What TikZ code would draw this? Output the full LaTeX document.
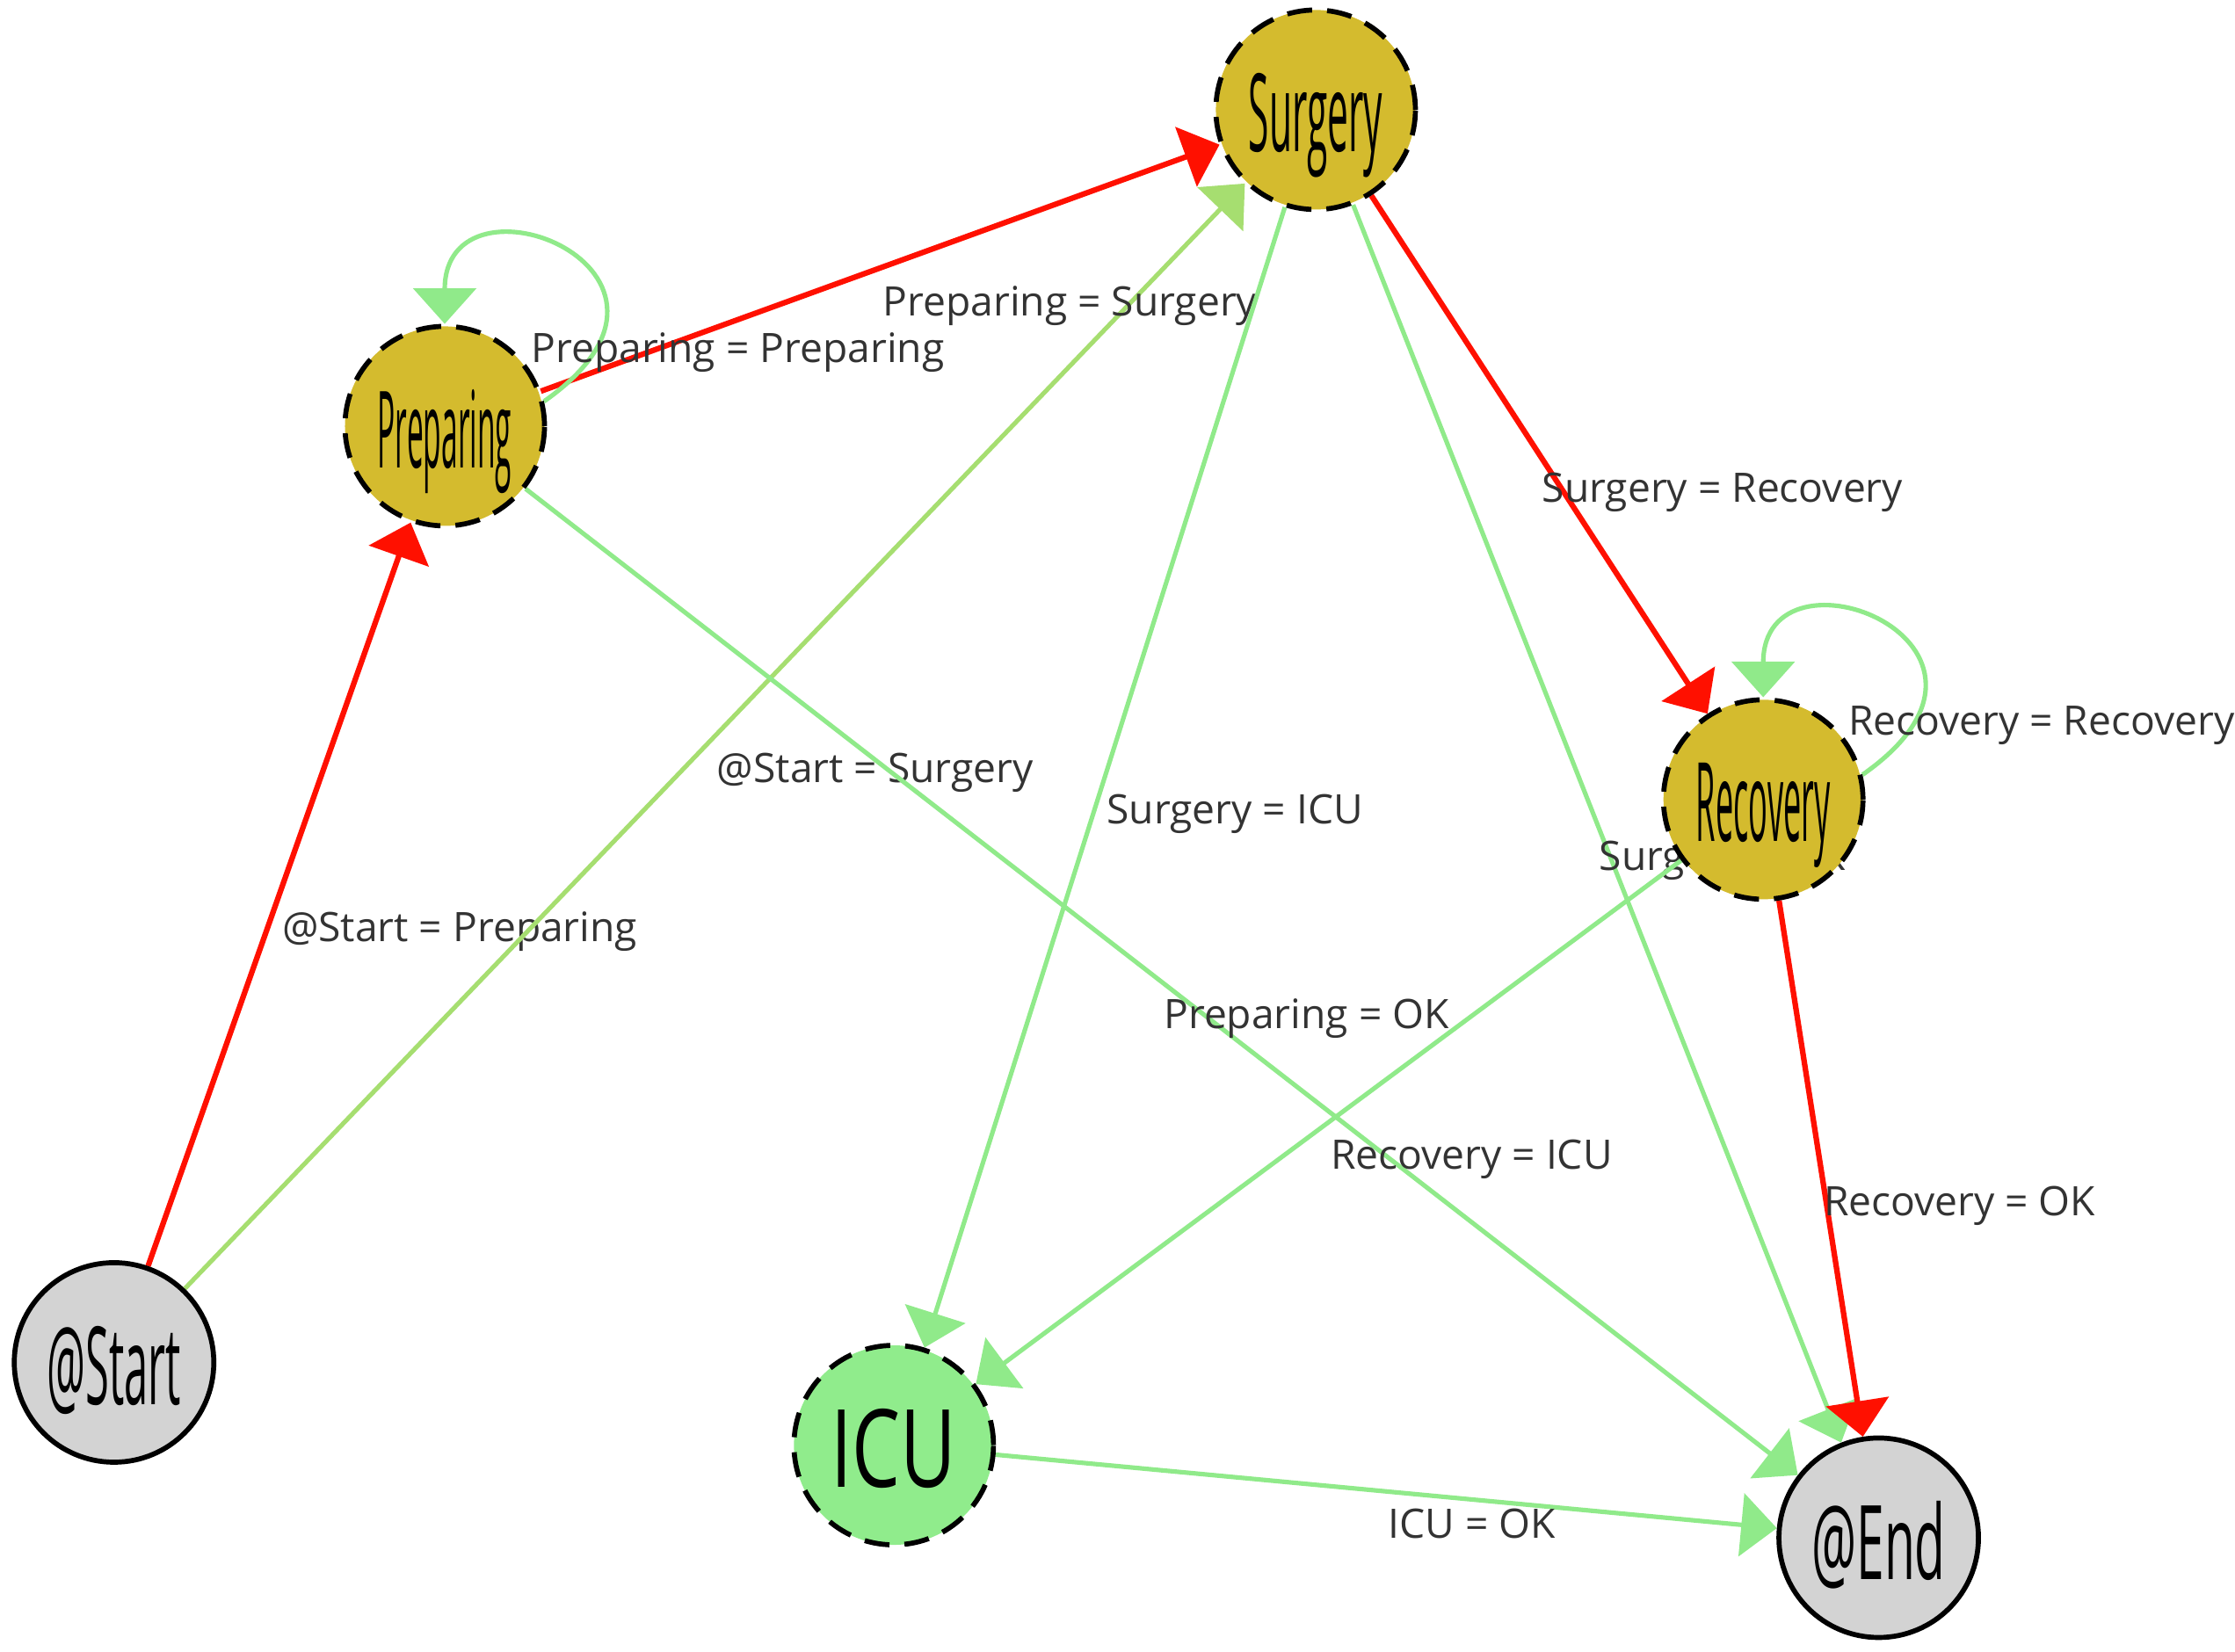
\documentclass[tikz,border=0pt]{standalone}
\usepackage{fontspec}
\setsansfont{Open Sans}
\usetikzlibrary{arrows.meta}

\definecolor{stategold}{RGB}{212,187,46}
\definecolor{icugreen}{RGB}{144,236,140}
\definecolor{termgray}{RGB}{211,211,211}
\definecolor{hotred}{RGB}{255,16,0}
\definecolor{coolgreen}{RGB}{144,234,138}
\definecolor{olivegreen}{RGB}{166,222,112}

\pgfdeclarelayer{edgelayer}
\pgfsetlayers{edgelayer,main}

\newcommand{\statename}[2][0.94cm]{\raisebox{-0.02cm}{\resizebox{#1}{0.55cm}{#2}}}

\tikzset{
    state/.style={circle, minimum size=1.4cm, inner sep=0pt, line width=1pt, draw=black,
                  dash pattern=on 5pt off 3pt, fill=stategold, text height=0.55cm, text depth=0pt,
                  font=\sffamily},
    terminal/.style={state, solid, fill=termgray},
    tip/.style={-{Triangle[length=2.5mm,width=4.4mm]}},
    hot/.style={tip, draw=hotred, line width=1.1pt},
    cool/.style={tip, draw=coolgreen, line width=0.9pt},
    elabel/.style={anchor=north west, inner xsep=0pt, inner ysep=3pt, text=black!80,
                   font=\sffamily\fontsize{8.1}{9.5}\selectfont},
}

\begin{document}
\begin{tikzpicture}
    \useasboundingbox (0,0) rectangle (15.68,11.59);

    \node[state]            (surgery)   at (9.23,10.82) {\statename{Surgery}};
    \node[state]            (preparing) at (3.12,8.60)  {\statename{Preparing}};
    \node[state]            (recovery)  at (12.37,5.98) {\statename{Recovery}};
    \node[terminal]         (start)     at (0.80,2.03)  {\statename{@Start}};
    \node[state,fill=icugreen] (icu)    at (6.27,1.45)  {\statename[0.88cm]{ICU}};
    \node[terminal]         (end)       at (13.18,0.80) {\statename{@End}};

    \begin{pgfonlayer}{edgelayer}
    \draw[hot]  (start) -- (preparing)      node[elabel,pos=0.5] {@Start = Preparing};
    \draw[cool,draw=olivegreen]
                (start) -- (surgery)        node[elabel,pos=0.5] {@Start = Surgery};
    \draw[hot]  (preparing) -- (surgery)    node[elabel,pos=0.5] {Preparing = Surgery};
    \draw[cool] (preparing) -- (end)        node[elabel,pos=0.5] {Preparing = OK};
    \draw[hot]  (surgery) -- (recovery)     node[elabel,pos=0.5] {Surgery = Recovery};
    \draw[cool] (surgery) -- (icu)          node[elabel,pos=0.5] {Surgery = ICU};
    \draw[cool] (surgery) -- (end)          node[elabel,pos=0.5] {Surgery = OK};
    \draw[cool] (recovery) -- (icu)         node[elabel,pos=0.5] {Recovery = ICU};
    \draw[hot]  (recovery) -- (end)         node[elabel,pos=0.5] {Recovery = OK};
    \draw[cool] (icu) -- (end)              node[elabel,pos=0.5] {ICU = OK};

    % self loops
    \draw[cool] (preparing.14) .. controls +(35:1.6) and +(90:1.15) .. (preparing.north);
    \node[elabel] (preploop) at ([shift={(0.6,0.77)}]preparing.center) {Preparing = Preparing};
    \draw[cool] (recovery.14) .. controls +(35:1.6) and +(90:1.15) .. (recovery.north);
    \node[elabel] (recloop)  at ([shift={(0.59,0.77)}]recovery.center) {Recovery = Recovery};
    \end{pgfonlayer}
\end{tikzpicture}
\end{document}
